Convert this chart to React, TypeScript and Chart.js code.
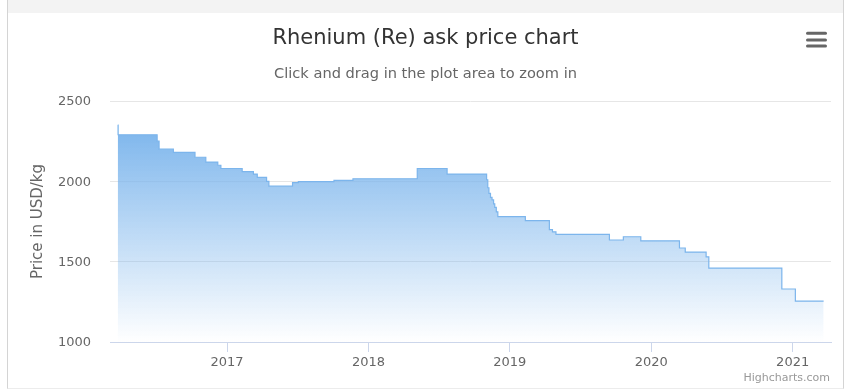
import React, { useEffect, useRef } from "react";
import { Chart, registerables } from "chart.js";

Chart.register(...registerables);

// Price change dates (price holds until the next date)
const CHANGE_DATES = [
  "2016-03-24", "2016-03-25", "2016-07-04", "2016-07-09", "2016-08-15",
  "2016-10-10", "2016-11-07", "2016-12-08", "2016-12-16", "2017-02-09",
  "2017-03-10", "2017-03-20", "2017-04-13", "2017-04-19", "2017-06-19",
  "2017-07-04", "2017-10-04", "2017-11-22", "2018-05-07", "2018-07-23",
  "2018-11-02", "2018-11-05", "2018-11-08", "2018-11-12", "2018-11-16",
  "2018-11-20", "2018-11-23", "2018-11-27", "2018-12-01", "2019-02-10",
  "2019-04-13", "2019-04-21", "2019-04-30", "2019-09-15", "2019-10-21",
  "2019-12-05", "2020-03-14", "2020-03-29", "2020-05-22", "2020-05-29",
  "2020-12-04", "2021-01-08", "2021-03-22",
];

// Ask price in USD/kg
const PRICES = [
  2350, 2290, 2250, 2200, 2180,
  2150, 2120, 2100, 2080, 2060,
  2045, 2025, 2000, 1970, 1992,
  1998, 2006, 2016, 2080, 2045,
  2010, 1960, 1925, 1900, 1884,
  1860, 1838, 1810, 1780, 1755,
  1700, 1686, 1670, 1635, 1655,
  1630, 1585, 1560, 1530, 1460,
  1330, 1255, 1255,
];

const YEAR_TICKS = [2017, 2018, 2019, 2020, 2021];
const Y_TICKS = [1000, 1500, 2000, 2500];
const X_RANGE = ["2016-03-04", "2021-04-10"];

const TITLE = "Rhenium (Re) ask price chart";
const SUBTITLE = "Click and drag in the plot area to zoom in";
const Y_TITLE = "Price in USD/kg";
const CREDIT = "Highcharts.com";

const FONT = '"DejaVu Sans", sans-serif';

function toYear(s: string): number {
  const [y, m, d] = s.split("-").map(Number);
  const t = Date.UTC(y, m - 1, d);
  const a = Date.UTC(y, 0, 1);
  const b = Date.UTC(y + 1, 0, 1);
  return y + (t - a) / (b - a);
}

const decorPlugin = {
  id: "decor",
  afterDraw(chart: any) {
    const ctx = chart.ctx;
    const area = chart.chartArea;
    const w = chart.width;
    ctx.save();
    // title
    ctx.fillStyle = "#333333";
    ctx.font = `21px ${FONT}`;
    ctx.textAlign = "center";
    ctx.textBaseline = "alphabetic";
    ctx.fillText(TITLE, w / 2, 30.5);
    // subtitle
    ctx.fillStyle = "#666666";
    ctx.font = `14.6px ${FONT}`;
    ctx.fillText(SUBTITLE, w / 2, 65.3);
    // y axis title
    ctx.save();
    ctx.translate(34.3, (area.top + area.bottom) / 2);
    ctx.rotate(-Math.PI / 2);
    ctx.fillStyle = "#666666";
    ctx.font = `15px ${FONT}`;
    ctx.textAlign = "center";
    ctx.fillText(Y_TITLE, 0, 0);
    ctx.restore();
    // credit
    ctx.fillStyle = "#999999";
    ctx.font = `11px ${FONT}`;
    ctx.textAlign = "right";
    ctx.fillText(CREDIT, 822, 368);
    // menu icon
    ctx.strokeStyle = "#666666";
    ctx.lineWidth = 3;
    ctx.lineCap = "round";
    [20.3, 27, 33].forEach((yy) => {
      ctx.beginPath();
      ctx.moveTo(799.5, yy);
      ctx.lineTo(817.5, yy);
      ctx.stroke();
    });
    ctx.restore();
  },
};

export default function App() {
  const ref = useRef<HTMLCanvasElement | null>(null);

  useEffect(() => {
    if (!ref.current) return;
    const points = CHANGE_DATES.map((d, i) => ({ x: toYear(d), y: PRICES[i] }));
    const maxPrice = Math.max(...PRICES);
    const chart = new Chart(ref.current, {
      type: "line",
      data: {
        datasets: [
          {
            data: points,
            stepped: true,
            borderColor: "#7cb5ec",
            borderWidth: 1.2,
            pointRadius: 0,
            fill: "start",
            backgroundColor: (c: any) => {
              const ch = c.chart;
              const ca = ch.chartArea;
              if (!ca) return "rgba(124,181,236,0.5)";
              const top = ch.scales.y.getPixelForValue(maxPrice);
              const g = ch.ctx.createLinearGradient(0, top, 0, ca.bottom);
              g.addColorStop(0, "rgba(124,181,236,1)");
              g.addColorStop(1, "rgba(124,181,236,0)");
              return g;
            },
          },
        ],
      },
      options: {
        animation: false,
        responsive: false,
        devicePixelRatio: 1,
        layout: { padding: { top: 88, right: 12, left: 0, bottom: 0 } },
        plugins: {
          legend: { display: false },
          tooltip: { enabled: false },
          title: { display: false },
        },
        scales: {
          x: {
            type: "linear",
            min: toYear(X_RANGE[0]),
            max: toYear(X_RANGE[1]),
            afterBuildTicks: (s: any) => {
              s.ticks = YEAR_TICKS.map((v) => ({ value: v }));
            },
            afterFit: (s: any) => {
              s.height = 46;
            },
            grid: {
              drawOnChartArea: false,
              drawTicks: true,
              tickLength: 10,
              color: "#ccd6eb",
            },
            border: { display: true, color: "#ccd6eb", width: 1 },
            ticks: {
              padding: 3,
              color: "#666666",
              font: { family: FONT, size: 13 },
              maxRotation: 0,
              autoSkip: false,
              callback: (v: any) => String(v),
            },
          },
          y: {
            type: "linear",
            min: Y_TICKS[0],
            max: Y_TICKS[Y_TICKS.length - 1],
            afterBuildTicks: (s: any) => {
              s.ticks = Y_TICKS.map((v) => ({ value: v }));
            },
            afterFit: (s: any) => {
              s.width = 102;
            },
            grid: {
              drawTicks: false,
              color: (c: any) =>
                c.tick && c.tick.value === Y_TICKS[0] ? "rgba(0,0,0,0)" : "#e6e6e6",
            },
            border: { display: false },
            ticks: {
              padding: 19,
              labelOffset: 1,
              color: "#666666",
              font: { family: FONT, size: 13 },
              callback: (v: any) => String(v),
            },
          },
        },
      },
      plugins: [decorPlugin],
    } as any);
    return () => chart.destroy();
  }, []);

  return (
    <div
      style={{
        position: "absolute",
        left: 7,
        top: 0,
        width: 835,
        height: 388,
        borderLeft: "1px solid #d4d4d4",
        borderRight: "1px solid #d4d4d4",
        borderBottom: "1px solid #ececec",
        background: "#ffffff",
      }}
    >
      <div style={{ height: 13, background: "#f3f3f3" }} />
      <canvas ref={ref} width={835} height={375} style={{ display: "block" }} />
    </div>
  );
}
